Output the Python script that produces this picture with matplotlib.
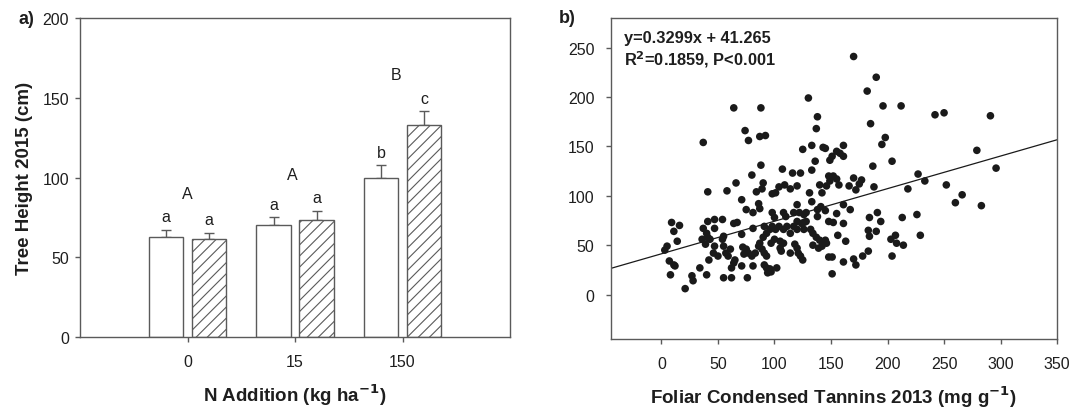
import numpy as np
import matplotlib
matplotlib.use("Agg")
import matplotlib.pyplot as plt

plt.rcParams['font.family'] = ['Liberation Sans', 'DejaVu Sans']
plt.rcParams['hatch.linewidth'] = 0.8

# ---------------- Panel a data ----------------
groups = ["0", "15", "150"]
open_means = [62.6, 70.3, 99.4]
open_err = [4.8, 4.8, 8.3]
hatched_means = [61.7, 73.6, 132.8]
hatched_err = [3.8, 5.7, 8.8]
open_letters = ["a", "a", "b"]
hatched_letters = ["a", "a", "c"]
group_letters = ["A", "A", "B"]

# ---------------- Panel b data ----------------
tannin = [
    170, 190, 182, 130, 64, 88, 196, 212, 242, 250, 291, 138, 185, 137, 74, 77, 87, 92, 37, 198,
    195, 279, 296, 133, 125, 143, 145, 161, 155, 158, 161, 151, 149, 136, 204, 88, 187, 227, 233, 252,
    260, 266, 283, 107, 116, 123, 133, 80, 71, 66, 58, 41, 90, 89, 84, 98, 101, 104, 109, 114,
    120, 131, 140, 142, 148, 152, 155, 149, 146, 157, 166, 170, 172, 175, 177, 188, 218, 75, 81, 86,
    87, 120, 133, 138, 141, 145, 138, 155, 161, 167, 98, 100, 108, 110, 117, 122, 126, 128, 120, 126,
    128, 184, 191, 194, 213, 226, 9, 16, 11, 14, 41, 47, 54, 47, 37, 40, 41, 36, 43, 39,
    54, 64, 67, 71, 81, 91, 93, 90, 96, 98, 101, 104, 108, 111, 114, 117, 120, 124, 126, 132,
    134, 137, 140, 143, 145, 148, 152, 156, 161, 163, 183, 184, 190, 203, 207, 208, 214, 229, 3, 5,
    7, 11, 12, 8, 34, 27, 28, 21, 40, 47, 46, 50, 42, 55, 55, 57, 59, 61, 64, 62,
    55, 62, 65, 71, 72, 73, 75, 77, 80, 76, 81, 83, 86, 87, 89, 91, 93, 91, 93, 94,
    97, 96, 102, 97, 100, 105, 105, 106, 108, 114, 118, 120, 121, 123, 125, 134, 139, 142, 146, 148,
    151, 151, 161, 170, 172, 178, 183, 204,
]
height = [
    241, 220, 206, 199, 189, 189, 191, 191, 182, 184, 181, 180, 173, 168, 166, 156, 160, 161, 154, 159,
    152, 146, 128, 151, 147, 149, 148, 151, 145, 143, 140, 140, 136, 135, 135, 131, 130, 122, 115, 111,
    93, 101, 90, 127, 123, 123, 126, 121, 96, 113, 105, 104, 113, 107, 104, 102, 103, 109, 111, 107,
    110, 103, 111, 103, 120, 120, 117, 115, 110, 111, 110, 118, 106, 112, 116, 109, 107, 86, 83, 92,
    87, 91, 94, 86, 89, 85, 79, 82, 91, 86, 83, 78, 83, 79, 83, 83, 81, 83, 74, 73,
    74, 78, 83, 74, 78, 81, 73, 70, 64, 54, 74, 76, 76, 67, 67, 62, 58, 56, 56, 51,
    56, 72, 73, 61, 67, 69, 62, 58, 66, 69, 66, 69, 66, 69, 62, 69, 66, 72, 66, 66,
    62, 58, 55, 53, 55, 74, 73, 60, 72, 54, 65, 59, 64, 56, 60, 52, 50, 60, 45, 49,
    34, 30, 29, 20, 27, 19, 14, 6, 20, 49, 42, 39, 35, 59, 49, 42, 39, 46, 32, 27,
    17, 17, 35, 29, 48, 41, 46, 42, 39, 17, 29, 42, 49, 52, 46, 42, 39, 30, 27, 22,
    23, 26, 27, 52, 56, 54, 47, 44, 52, 42, 51, 47, 42, 39, 35, 50, 47, 49, 52, 38,
    38, 21, 33, 36, 30, 39, 44, 39,
]
slope = 0.3299
intercept = 41.265

fig = plt.figure(figsize=(10.73, 4.10), dpi=100)
frame_col = "#5a5a5a"
txt_col = "#1e1e1e"
fs_tick = 11.5
fs_lab = 13.5

# ---------------- Panel a ----------------
axa = fig.add_axes([0.0746, 0.1756, 0.4007, 0.778])
pos = np.arange(1, len(groups) + 1)
w = 0.323
off = 0.2
axa.bar(pos - off, open_means, width=w, color="white", edgecolor=frame_col, linewidth=1.0, zorder=2)
axa.bar(pos + off, hatched_means, width=w, color="white", edgecolor=frame_col, hatch="///",
        linewidth=1.0, zorder=2)
axa.errorbar(pos - off, open_means, yerr=[np.zeros(3), open_err], fmt="none", ecolor=frame_col,
             elinewidth=1.0, capsize=3.3, capthick=1.0, zorder=1)
axa.errorbar(pos + off, hatched_means, yerr=[np.zeros(3), hatched_err], fmt="none", ecolor=frame_col,
             elinewidth=1.0, capsize=3.3, capthick=1.0, zorder=1)
for i in range(len(groups)):
    top_o = open_means[i] + open_err[i]
    top_h = hatched_means[i] + hatched_err[i]
    axa.text(pos[i] - off, top_o + 3.5, open_letters[i], ha="center", va="bottom",
             fontsize=fs_tick, color=txt_col)
    axa.text(pos[i] + off, top_h + 3.5, hatched_letters[i], ha="center", va="bottom",
             fontsize=fs_tick, color=txt_col)
    axa.text(pos[i] - 0.03 * i, max(top_o, top_h) + 18, group_letters[i], ha="center", va="bottom",
             fontsize=fs_tick, color=txt_col)
axa.set_xlim(0, 4)
axa.set_ylim(0, 200)
axa.set_xticks(pos)
axa.set_xticklabels(groups)
axa.set_yticks([0, 50, 100, 150, 200])
axa.set_ylabel("Tree Height 2015 (cm)", fontsize=fs_lab, fontweight="bold", labelpad=7, color=txt_col)
axa.set_xlabel("N Addition (kg ha$^{\\mathbf{-1}}$)", fontsize=fs_lab, fontweight="bold", labelpad=9,
               color=txt_col)
axa.text(-0.142, 1.0, "a)", transform=axa.transAxes, fontsize=13, fontweight="bold",
         ha="left", va="center", color=txt_col)

# ---------------- Panel b ----------------
axb = fig.add_axes([0.569, 0.1707, 0.4162, 0.783])
axb.scatter(tannin, height, s=30, color="#1a1a1a", edgecolors="none", zorder=3)
xl = np.array([-45, 350])
axb.plot(xl, slope * xl + intercept, color="#1a1a1a", linewidth=0.9, zorder=2)
axb.set_xlim(-45, 350)
axb.set_ylim(-45, 280)
axb.set_xticks([0, 50, 100, 150, 200, 250, 300, 350])
axb.set_yticks([0, 50, 100, 150, 200, 250])
axb.set_xlabel("Foliar Condensed Tannins 2013 (mg g$^{\\mathbf{-1}}$)", fontsize=fs_lab,
               fontweight="bold", labelpad=9, color=txt_col)
axb.text(0.03, 0.938, "y=0.3299x + 41.265", transform=axb.transAxes, fontsize=11.8,
         fontweight="bold", ha="left", va="center", color=txt_col)
axb.text(0.03, 0.872, "R$^{\\mathbf{2}}$=0.1859, P<0.001", transform=axb.transAxes, fontsize=11.8,
         fontweight="bold", ha="left", va="center", color=txt_col)
axb.text(-0.116, 1.0, "b)", transform=axb.transAxes, fontsize=13, fontweight="bold",
         ha="left", va="center", color=txt_col)

for ax, ypad in ((axa, 4.5), (axb, 8)):
    for sp in ax.spines.values():
        sp.set_color(frame_col)
        sp.set_linewidth(1.0)
    ax.tick_params(direction="out", length=3.5, width=1.0, color=frame_col, labelsize=fs_tick,
                   labelcolor=txt_col)
    ax.tick_params(axis="x", pad=9)
    ax.tick_params(axis="y", pad=ypad)

fig.savefig("out.png", dpi=100)
